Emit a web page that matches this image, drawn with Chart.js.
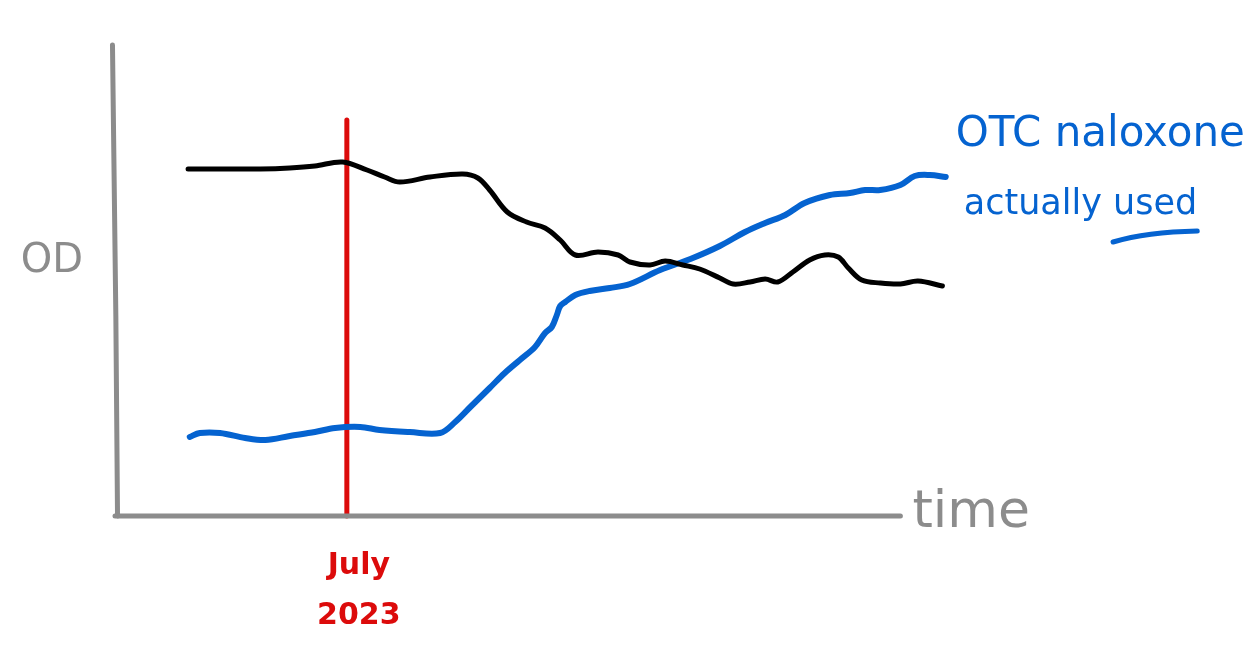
<!DOCTYPE html>
<html>
<head>
  <meta charset="UTF-8" />
  <title>OD vs time sketch</title>
  <script src="https://cdn.jsdelivr.net/npm/chart.js"></script>
  <style>
    html, body { margin: 0; padding: 0; background: #fff; }
    #wrap { width: 1259px; height: 650px; }
  </style>
</head>
<body>
<div id="wrap"><canvas id="odChart"></canvas></div>

<script>
  // 1) Data (x = time units, y = OD units)
  const odPoints = [
    [8.7, 69.4], [12.5, 69.4], [17.3, 69.4], [20.8, 69.6], [23.8, 70.0], [27.1, 70.8],
    [30.0, 69.2], [32.1, 67.8], [33.9, 66.8], [37.5, 67.8], [41.4, 68.4], [43.2, 67.6],
    [44.6, 65.2], [46.7, 60.8], [49.0, 58.8], [51.2, 57.6], [53.0, 55.2], [54.8, 52.2],
    [57.5, 52.8], [59.9, 52.2], [61.3, 50.8], [63.7, 50.2], [65.5, 51.0], [67.6, 50.2],
    [69.6, 49.4], [72.0, 47.6], [73.6, 46.4], [75.6, 46.8], [77.4, 47.4], [78.9, 46.8],
    [80.7, 48.8], [82.7, 51.2], [84.5, 52.2], [86.1, 51.8], [87.3, 49.6], [88.9, 47.2],
    [91.1, 46.6], [93.5, 46.4], [95.6, 47.0], [98.5, 46.0]
  ];
  const naloxonePoints = [
    [8.9, 15.8], [10.1, 16.6], [12.5, 16.6], [15.5, 15.6], [17.9, 15.2], [20.8, 16.0],
    [23.8, 16.8], [26.2, 17.6], [29.2, 17.8], [31.5, 17.2], [35.1, 16.8], [38.7, 16.6],
    [40.5, 18.8], [42.3, 21.8], [44.6, 25.6], [46.4, 28.6], [48.2, 31.2], [50.0, 33.8],
    [51.2, 36.6], [52.0, 37.8], [52.6, 40.2], [53.0, 42.0], [53.6, 42.8], [54.8, 44.2],
    [56.5, 45.0], [58.9, 45.6], [61.3, 46.4], [64.9, 49.2], [68.5, 51.4], [72.0, 54.0],
    [75.0, 56.8], [77.4, 58.6], [79.8, 60.2], [82.1, 62.6], [85.1, 64.2], [87.5, 64.6],
    [89.3, 65.2], [91.1, 65.2], [93.5, 66.2], [95.2, 68.0], [97.0, 68.2], [98.9, 67.8]
  ];
  const policyDate = 27.6;         // "July 2023" marker position on the time axis
  const policyLineTop = 79.2;
  const xAxisEnd = 93.5;
  const yAxisTop = 94.2;

  const axisLabels = { y: 'OD', x: 'time' };
  const markerLabel = ['July', '2023'];
  const seriesNote = ['OTC naloxone', 'actually used'];

  const toXY = pts => pts.map(([x, y]) => ({ x, y }));

  const GRAY = '#8c8c8c';
  const RED = '#dc0b0b';
  const BLUE = '#0563d0';

  // 2) Hand-drawn labels, placed from the scales
  const sketchLabels = {
    id: 'sketchLabels',
    afterDraw(chart) {
      const { ctx, scales: { x, y } } = chart;
      ctx.save();
      ctx.textBaseline = 'middle';

      // "OD"
      ctx.fillStyle = GRAY;
      ctx.font = '40px "DejaVu Sans"';
      ctx.textAlign = 'center';
      ctx.fillText(axisLabels.y, x.getPixelForValue(0) - 63, y.getPixelForValue(50.8));

      // "time"
      ctx.font = '52px "DejaVu Sans"';
      ctx.textAlign = 'left';
      ctx.fillText(axisLabels.x, x.getPixelForValue(xAxisEnd) + 12, y.getPixelForValue(0.5));

      // "July 2023"
      ctx.fillStyle = RED;
      ctx.font = 'bold 30px "DejaVu Sans"';
      ctx.textAlign = 'center';
      const mx = x.getPixelForValue(policyDate) + 12;
      ctx.fillText(markerLabel[0], mx, y.getPixelForValue(0) + 50);
      ctx.fillText(markerLabel[1], mx, y.getPixelForValue(0) + 100);

      // "OTC naloxone / actually used"
      ctx.fillStyle = BLUE;
      ctx.textAlign = 'left';
      ctx.font = '42px "DejaVu Sans"';
      const nx = x.getPixelForValue(98.9) + 10;
      ctx.fillText(seriesNote[0], nx, y.getPixelForValue(76.2));
      ctx.font = '35px "DejaVu Sans"';
      ctx.fillText(seriesNote[1], nx + 8, y.getPixelForValue(62.2));

      // underline under "used"
      const first = seriesNote[1].split(' ')[0] + ' ';
      const ux = nx + 8 + ctx.measureText(first).width;
      const uw = ctx.measureText(seriesNote[1].split(' ')[1]).width;
      const uy = y.getPixelForValue(56.2);
      ctx.strokeStyle = BLUE;
      ctx.lineWidth = 5;
      ctx.lineCap = 'round';
      ctx.beginPath();
      ctx.moveTo(ux, uy + 7);
      ctx.quadraticCurveTo(ux + uw * 0.4, uy - 3, ux + uw, uy - 4);
      ctx.stroke();

      ctx.restore();
    }
  };

  // 3) Chart setup
  const ctx = document.getElementById('odChart').getContext('2d');
  const odChart = new Chart(ctx, {
    type: 'line',
    data: {
      datasets: [
        {
          label: 'y axis',
          data: [{ x: 0.3, y: 0 }, { x: 0.1, y: 40 }, { x: -0.3, y: yAxisTop }],
          borderColor: GRAY, borderWidth: 5, tension: 0
        },
        {
          label: 'x axis',
          data: [{ x: 0, y: 0 }, { x: xAxisEnd, y: 0 }],
          borderColor: GRAY, borderWidth: 5, tension: 0
        },
        {
          label: 'OD',
          data: toXY(odPoints),
          borderColor: '#000000', borderWidth: 5, tension: 0.35
        },
        {
          label: 'OTC naloxone actually used',
          data: toXY(naloxonePoints),
          borderColor: BLUE, borderWidth: 6, tension: 0.35
        },
        {
          label: 'July 2023',
          data: [{ x: policyDate, y: 0 }, { x: policyDate, y: policyLineTop }],
          borderColor: RED, borderWidth: 5, tension: 0
        }
      ]
    },
    options: {
      responsive: true,
      maintainAspectRatio: false,
      animation: false,
      layout: { padding: { left: 115, right: 304, top: 16, bottom: 134 } },
      datasets: { line: { pointRadius: 0, clip: false, borderCapStyle: 'round', borderJoinStyle: 'round' } },
      scales: {
        x: { type: 'linear', min: 0, max: 100, display: false },
        y: { min: 0, max: 100, display: false }
      },
      plugins: {
        legend: { display: false },
        tooltip: { enabled: false }
      }
    },
    plugins: [sketchLabels]
  });
</script>

</body>
</html>
